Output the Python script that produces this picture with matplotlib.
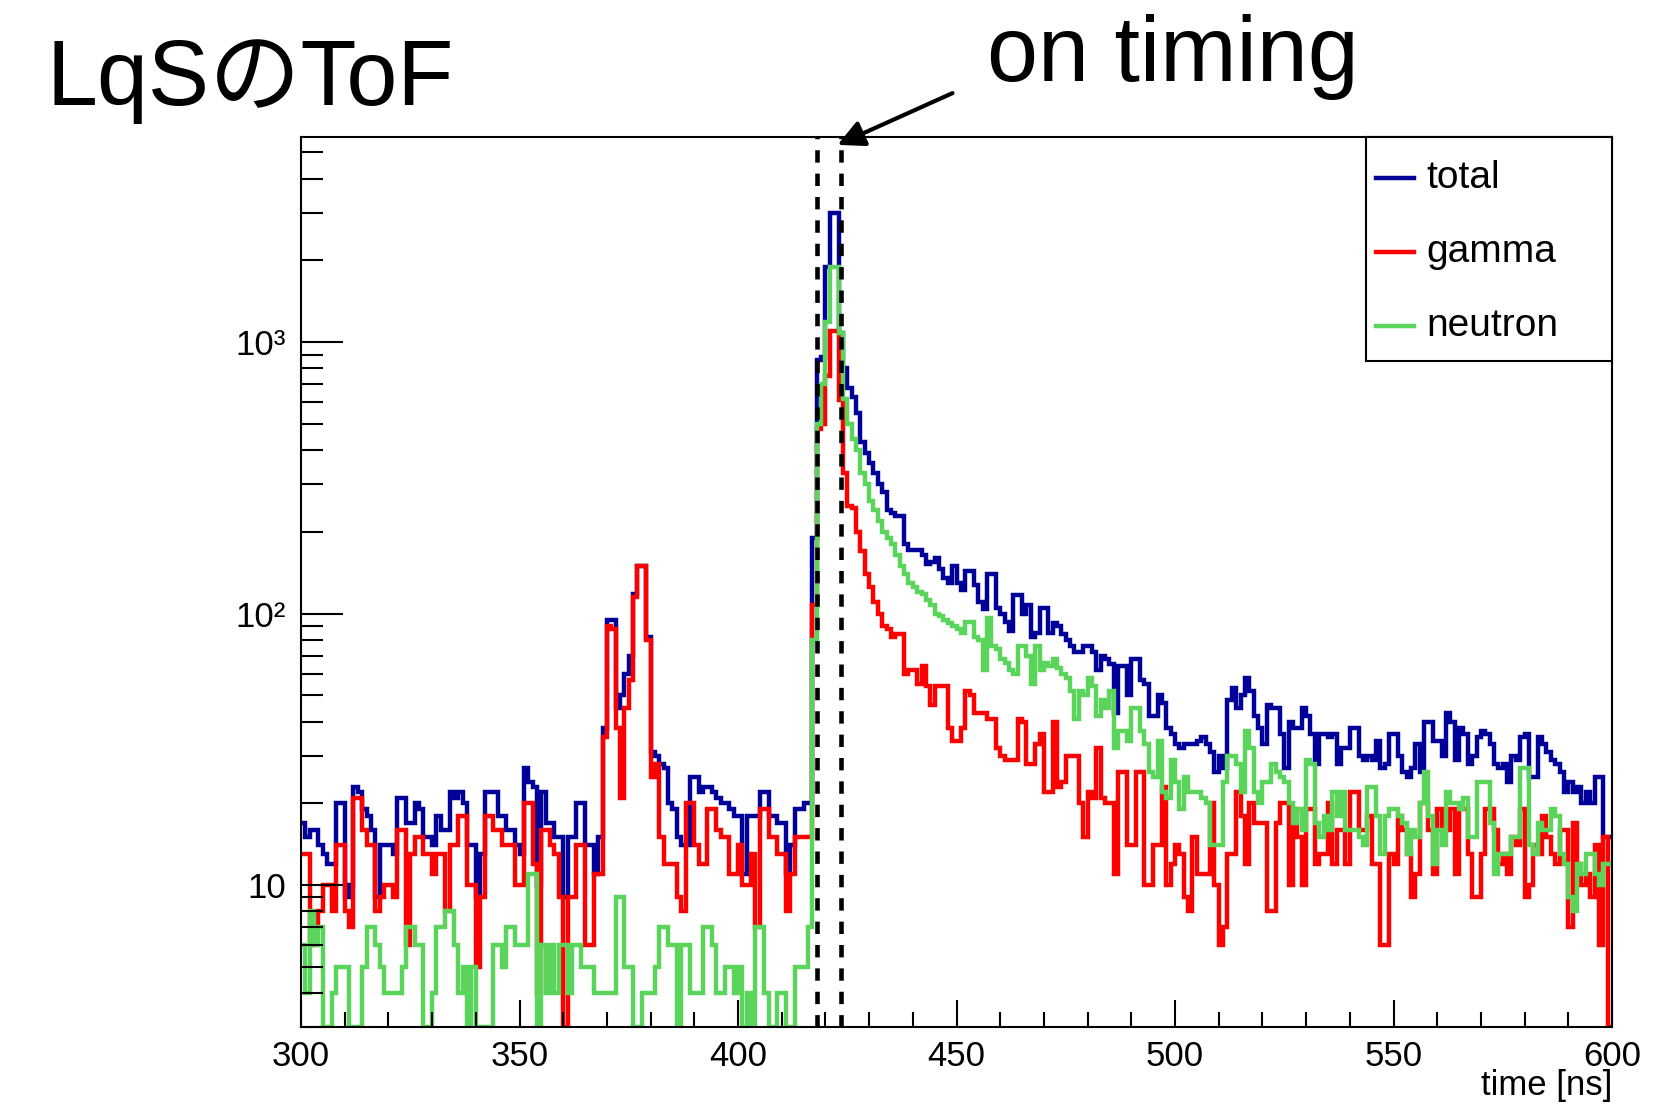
import numpy as np
import matplotlib
matplotlib.use('agg')
from matplotlib import pyplot as plt, ticker
from matplotlib.lines import Line2D
from matplotlib.patches import Rectangle

# ToF histograms, 1 ns bins from 300 to 600 ns (counts)
t_lo, t_hi = 300, 600

total = [
    17, 15, 16, 16, 14, 13, 12, 12, 20, 20,
    9, 10, 23, 22, 19, 18, 16, 9, 14, 14,
    14, 13, 21, 21, 17, 17, 20, 19, 15, 15,
    14, 18, 16, 16, 22, 21, 22, 20, 14, 14,
    9, 13, 22, 22, 22, 18, 18, 16, 16, 14,
    13, 27, 24, 23, 10, 22, 17, 17, 15, 15,
    9, 15, 15, 20, 20, 14, 14, 11, 15, 38,
    95, 95, 45, 50, 60, 70, 118, 150, 150, 82,
    31, 30, 28, 27, 20, 19, 15, 14, 14, 25,
    25, 22, 23, 23, 22, 21, 20, 20, 19, 18,
    18, 11, 18, 18, 18, 22, 22, 18, 18, 17,
    17, 11, 14, 19, 19, 20, 20, 190, 860, 880,
    1900, 3000, 3000, 1080, 800, 680, 630, 550, 430, 390,
    360, 330, 300, 280, 240, 235, 228, 228, 180, 172,
    172, 172, 165, 152, 155, 160, 146, 135, 130, 150,
    130, 122, 143, 143, 128, 110, 104, 140, 140, 105,
    100, 93, 86, 117, 117, 100, 108, 82, 85, 105,
    105, 85, 92, 90, 84, 80, 76, 72, 72, 76,
    76, 72, 62, 70, 68, 65, 43, 64, 64, 50,
    68, 68, 57, 55, 42, 42, 50, 47, 38, 36,
    33, 32, 33, 33, 33, 34, 35, 33, 31, 26,
    30, 27, 48, 53, 45, 50, 58, 52, 42, 38,
    33, 46, 45, 45, 36, 27, 40, 38, 38, 45,
    42, 36, 28, 36, 36, 35, 36, 28, 32, 32,
    38, 38, 30, 29, 30, 29, 34, 27, 28, 36,
    36, 30, 26, 25, 27, 33, 26, 40, 40, 34,
    34, 30, 43, 40, 29, 38, 36, 28, 30, 35,
    37, 36, 33, 28, 27, 28, 24, 30, 29, 35,
    36, 25, 25, 35, 33, 31, 29, 28, 26, 22,
    24, 22, 23, 20, 22, 20, 25, 25, 15, 15,
]

gamma = [
    13, 13, 6, 7, 8, 10, 10, 8, 14, 14,
    8, 7, 21, 21, 16, 14, 14, 8, 9, 10,
    10, 9, 16, 16, 6, 13, 15, 15, 13, 13,
    11, 13, 13, 8, 14, 14, 18, 18, 10, 10,
    5, 9, 18, 18, 16, 16, 14, 14, 14, 10,
    10, 20, 20, 12, 4, 16, 16, 14, 13, 9,
    3, 9, 9, 14, 14, 6, 6, 11, 11, 35,
    90, 88, 38, 21, 45, 57, 115, 150, 150, 80,
    25, 28, 15, 12, 12, 12, 9, 8, 20, 20,
    14, 12, 12, 19, 19, 16, 15, 15, 11, 11,
    14, 10, 10, 13, 7, 19, 19, 15, 15, 13,
    13, 8, 11, 15, 15, 15, 15, 108, 480, 500,
    750, 1100, 1100, 610, 330, 250, 245, 200, 170, 140,
    125, 110, 100, 90, 88, 82, 84, 84, 60, 62,
    62, 55, 64, 54, 46, 54, 54, 54, 38, 34,
    34, 38, 52, 50, 43, 43, 43, 41, 41, 32,
    30, 29, 29, 29, 41, 40, 28, 28, 33, 36,
    22, 22, 40, 23, 24, 30, 30, 30, 20, 15,
    22, 21, 32, 21, 20, 20, 11, 26, 26, 14,
    14, 26, 26, 10, 10, 14, 14, 23, 10, 12,
    14, 13, 9, 8, 15, 11, 11, 11, 20, 10,
    6, 7, 13, 13, 22, 18, 12, 20, 17, 17,
    17, 8, 8, 17, 20, 20, 10, 19, 15, 10,
    19, 19, 12, 13, 13, 20, 12, 16, 16, 12,
    22, 22, 16, 16, 18, 12, 12, 6, 6, 13,
    12, 18, 16, 13, 9, 11, 20, 20, 16, 11,
    19, 16, 16, 19, 11, 19, 19, 13, 9, 9,
    13, 19, 19, 16, 12, 13, 11, 15, 14, 19,
    9, 10, 14, 13, 18, 15, 13, 12, 16, 16,
    7, 17, 12, 10, 11, 9, 14, 6, 15, 3,
]

neutron = [
    6, 4, 8, 6, 7, 3, 3, 4, 5, 5,
    5, 3, 3, 3, 5, 7, 7, 6, 5, 4,
    4, 4, 4, 5, 7, 7, 6, 6, 3, 3,
    4, 7, 7, 8, 8, 6, 4, 5, 3, 5,
    3, 3, 3, 3, 6, 6, 5, 7, 7, 6,
    6, 6, 11, 11, 3, 6, 4, 6, 4, 6,
    6, 4, 6, 6, 5, 5, 5, 4, 4, 4,
    4, 4, 9, 9, 5, 5, 3, 3, 4, 4,
    4, 5, 7, 7, 6, 6, 3, 6, 6, 4,
    4, 4, 7, 7, 6, 4, 4, 5, 5, 4,
    5, 3, 4, 3, 7, 7, 4, 3, 3, 4,
    4, 3, 3, 5, 5, 5, 7, 80, 500, 700,
    1190, 1900, 1900, 1080, 620, 500, 440, 400, 330, 300,
    260, 240, 220, 200, 190, 180, 165, 150, 140, 130,
    125, 120, 118, 112, 108, 100, 98, 95, 92, 90,
    88, 85, 93, 93, 82, 80, 62, 96, 76, 74,
    68, 66, 62, 60, 76, 76, 70, 55, 76, 62,
    66, 64, 68, 63, 60, 58, 52, 41, 52, 50,
    58, 54, 42, 48, 45, 52, 32, 37, 37, 34,
    45, 45, 37, 33, 26, 25, 34, 22, 21, 29,
    24, 19, 25, 22, 22, 22, 21, 20, 14, 14,
    14, 24, 30, 30, 28, 22, 37, 32, 22, 20,
    24, 24, 28, 26, 25, 24, 20, 17, 19, 16,
    29, 28, 17, 15, 18, 16, 22, 18, 22, 16,
    16, 16, 15, 14, 23, 23, 18, 13, 18, 19,
    19, 18, 17, 13, 16, 15, 20, 26, 18, 12,
    16, 14, 22, 20, 20, 19, 21, 15, 15, 24,
    24, 24, 17, 11, 13, 13, 13, 15, 15, 27,
    27, 14, 13, 17, 16, 16, 19, 18, 13, 12,
    9, 8, 12, 11, 13, 13, 11, 10, 12, 12,
]

series = [('total', total, '#000099'),
          ('gamma', gamma, '#ff0000'),
          ('neutron', neutron, '#5ad45a')]

gate = [418.1, 423.5]   # on-timing window (dashed lines)
y_lo, y_hi = 3, 5700

edges = np.arange(t_lo, t_hi + 1)

plt.rcParams['font.family'] = ['Liberation Sans', 'Noto Sans CJK JP', 'DejaVu Sans']

W, H = 1654, 1111
fig = plt.figure(figsize=(W / 100, H / 100), dpi=100)
ax = fig.add_axes([301 / W, 1 - 1027 / H, (1612 - 301) / W, (1027 - 137) / H])

for name, vals, col in series:
    ax.stairs(np.clip(vals, y_lo, None), edges, color=col, lw=3.2, baseline=None)

for g in gate:
    ax.axvline(g, color='black', lw=3.3, ls=(0, (2.7, 2.4)), zorder=5)

ax.set_yscale('log')
ax.set_xlim(t_lo, t_hi)
ax.set_ylim(y_lo, y_hi)

ax.xaxis.set_major_locator(ticker.MultipleLocator(50))
ax.xaxis.set_minor_locator(ticker.MultipleLocator(10))
ax.yaxis.set_major_locator(ticker.FixedLocator([10, 100, 1000]))
ax.yaxis.set_major_formatter(ticker.FixedFormatter(['10', '10²', '10³']))
ax.yaxis.set_minor_locator(ticker.LogLocator(base=10, subs=np.arange(2, 10)))
ax.yaxis.set_minor_formatter(ticker.NullFormatter())

ax.tick_params(which='both', direction='in', top=False, right=False, width=1.5, labelsize=25)
ax.tick_params(axis='x', which='major', length=19.5, pad=9)
ax.tick_params(axis='x', which='minor', length=11)
ax.tick_params(axis='y', which='major', length=30, pad=11)
ax.tick_params(axis='y', which='minor', length=16)
for s in ax.spines.values():
    s.set_linewidth(1.5)

fig.text(1612 / W, 1 - 1085 / H, 'time [ns]', ha='right', va='center', fontsize=25)

# legend box, ROOT style
px = lambda x, y: (x / W, 1 - y / H)
fig.patches.append(Rectangle(px(1366, 361), 246 / W, 224 / H, transform=fig.transFigure,
                             facecolor='white', edgecolor='black', lw=1.5, zorder=6))
for k, (name, vals, col) in enumerate(series):
    yc = 178 + 74 * k
    fig.lines.append(Line2D([1376 / W, 1414 / W], [1 - yc / H] * 2, transform=fig.transFigure,
                            color=col, lw=3.2, zorder=7))
    fig.text(1426 / W, 1 - yc / H, name, ha='left', va='center', fontsize=28, zorder=7)

# slide annotations
fig.text(47 / W, 1 - 105 / H, 'LqSのToF', fontsize=66, ha='left', va='baseline')
fig.text(987 / W, 1 - 81 / H, 'on timing', fontsize=66, ha='left', va='baseline')
ax.annotate('', xy=px(835, 146), xytext=px(955, 92), xycoords='figure fraction',
            textcoords='figure fraction',
            arrowprops=dict(arrowstyle='-|>', color='black', lw=3, mutation_scale=40))

fig.savefig('out.png', dpi=100)
